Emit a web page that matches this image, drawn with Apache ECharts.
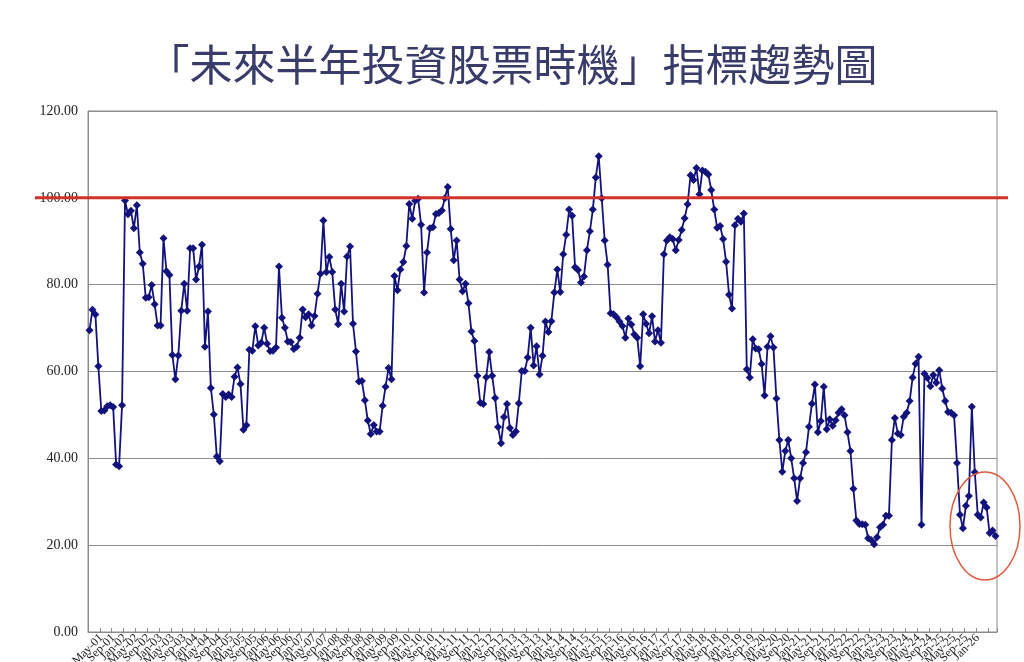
<!DOCTYPE html>
<html>
<head>
<meta charset="utf-8">
<script src="https://cdn.jsdelivr.net/npm/echarts@6/dist/echarts.min.js"></script>
<style>
html,body{margin:0;padding:0;background:#fff;}
#main{width:1024px;height:662px;}
</style>
</head>
<body>
<div id="main"></div>
<script>
var titleText = '「未來半年投資股票時機」指標趨勢圖';
var monthNames = ['Jan','Feb','Mar','Apr','May','Jun','Jul','Aug','Sep','Oct','Nov','Dec'];
var startYear = 2001;
var values = [
 69.5, 74.2, 73.1, 61.2, 50.9, 51.0, 52.0, 52.2, 51.8, 38.6,
 38.2, 52.2, 99.4, 96.2, 97.0, 93.0, 98.3, 87.4, 84.8, 77.0,
 77.1, 79.9, 75.5, 70.6, 70.6, 90.7, 83.1, 82.2, 63.8, 58.2,
 63.7, 74.0, 80.2, 74.0, 88.4, 88.4, 81.2, 84.2, 89.2, 65.7,
 73.8, 56.2, 50.1, 40.4, 39.3, 54.8, 54.1, 54.7, 54.1, 58.8,
 60.9, 57.1, 46.6, 47.6, 65.0, 64.8, 70.4, 66.0, 66.6, 70.1,
 66.4, 64.7, 64.8, 65.5, 84.2, 72.4, 70.1, 66.9, 66.8, 65.2,
 65.7, 67.8, 74.3, 72.5, 73.2, 70.6, 72.8, 77.9, 82.5, 94.8,
 82.9, 86.4, 82.9, 74.3, 70.9, 80.2, 73.8, 86.5, 88.8, 71.0,
 64.6, 57.7, 57.8, 53.4, 48.7, 45.6, 47.7, 46.2, 46.2, 52.1,
 56.5, 60.8, 58.2, 82.0, 78.7, 83.5, 85.2, 88.9, 98.6, 95.2,
 99.3, 99.8, 93.8, 78.2, 87.4, 93.0, 93.2, 96.3, 96.5, 97.1,
 99.9, 102.5, 92.8, 85.6, 90.2, 81.2, 78.5, 80.2, 75.7, 69.2,
 67.0, 59.0, 52.8, 52.5, 58.7, 64.5, 59.0, 53.9, 47.2, 43.5,
 49.5, 52.5, 47.0, 45.4, 46.2, 52.7, 60.1, 60.1, 63.2, 70.1,
 61.4, 65.8, 59.3, 63.6, 71.5, 69.1, 71.6, 78.2, 83.5, 78.3,
 87.0, 91.5, 97.3, 95.9, 84.0, 83.4, 80.5, 81.9, 87.9, 92.3,
 97.3, 104.7, 109.6, 99.9, 90.2, 84.6, 73.4, 73.2, 72.5, 71.5,
 70.5, 67.8, 72.2, 70.8, 68.5, 67.8, 61.2, 73.2, 71.0, 68.8,
 72.7, 66.9, 69.5, 66.6, 87.0, 90.2, 90.9, 90.5, 87.9, 90.3,
 92.6, 95.3, 98.5, 105.2, 104.1, 106.9, 100.8, 106.3, 106.0, 105.4,
 101.8, 97.3, 93.1, 93.5, 90.5, 85.3, 77.7, 74.5, 93.7, 95.2,
 94.5, 96.4, 60.5, 58.6, 67.4, 65.3, 65.1, 61.7, 54.5, 65.7,
 68.1, 65.5, 53.8, 44.2, 36.9, 41.7, 44.2, 40.0, 35.4, 30.2,
 35.4, 38.9, 41.4, 47.3, 52.6, 57.0, 46.0, 48.6, 56.5, 46.7,
 49.0, 47.5, 48.8, 50.5, 51.3, 49.9, 46.0, 41.7, 33.0, 25.7,
 24.9, 24.8, 24.7, 21.6, 21.2, 20.2, 21.8, 24.1, 24.7, 26.8,
 26.8, 44.2, 49.3, 45.7, 45.4, 49.6, 50.5, 53.2, 58.6, 61.8,
 63.4, 24.7, 59.5, 58.5, 56.6, 59.2, 57.4, 60.3, 56.1, 53.2,
 50.7, 50.5, 49.9, 38.9, 27.0, 23.9, 29.1, 31.3, 51.9, 36.8,
 27.0, 26.4, 29.8, 28.7, 22.8, 23.4, 22.1
];
var thresholdValue = 100;
var yTicks = [0, 20, 40, 60, 80, 100, 120];

var categories = [];
for (var i = 0; i < values.length; i++) {
  var y = startYear + Math.floor(i / 12);
  var m = i % 12;
  categories.push(monthNames[m] + '-' + String(y % 100).padStart(2, '0'));
}

var chart = echarts.init(document.getElementById('main'));
var option = {
  backgroundColor: '#ffffff',
  animation: false,
  title: {
    text: titleText,
    left: 'center',
    top: 38,
    textStyle: {
      fontFamily: '"Noto Sans CJK TC", "Noto Sans CJK SC", sans-serif',
      fontSize: 43,
      fontWeight: 'normal',
      color: '#393c69'
    }
  },
  grid: {
    left: 88, right: 27, top: 111, bottom: 30,
    outerBoundsMode: 'none',
    containLabel: false,
    show: true, borderColor: '#8a8a8a', borderWidth: 1
  },
  xAxis: {
    type: 'category',
    data: categories,
    boundaryGap: true,
    axisLine: { show: true, lineStyle: { color: '#8a8a8a', width: 1 } },
    axisTick: { show: true, inside: true, length: 4, interval: 3, lineStyle: { color: '#8a8a8a' } },
    axisLabel: {
      interval: 3, rotate: 45, fontFamily: '"Liberation Serif", serif',
      fontSize: 12, color: '#222', margin: 4
    },
    splitLine: { show: false }
  },
  yAxis: {
    type: 'value',
    min: yTicks[0], max: yTicks[yTicks.length - 1], interval: 20,
    axisLine: { show: true, lineStyle: { color: '#8a8a8a' } },
    axisTick: { show: false },
    axisLabel: {
      formatter: function (v) { return v.toFixed(2); },
      fontFamily: '"Liberation Serif", serif', fontSize: 14, color: '#222', margin: 10
    },
    splitLine: { show: true, lineStyle: { color: '#8c8c8c', width: 1 } }
  },
  series: [{
    type: 'line',
    data: values,
    symbol: 'diamond',
    symbolSize: 8,
    showAllSymbol: true,
    lineStyle: { color: '#12127c', width: 1.8 },
    itemStyle: { color: '#12127c' },
    z: 3
  }]
};
chart.setOption(option);

var yPix = chart.convertToPixel({ yAxisIndex: 0 }, thresholdValue);
chart.setOption({
  graphic: [
    {
      type: 'line', z: 10,
      shape: { x1: 35, y1: yPix, x2: 1008, y2: yPix },
      style: { stroke: '#d2302a', lineWidth: 3 }
    },
    {
      type: 'ellipse', z: 10,
      shape: { cx: 985, cy: 526, rx: 35, ry: 54 },
      style: { fill: 'none', stroke: '#e0583c', lineWidth: 1.5 }
    }
  ]
});
</script>
</body>
</html>
